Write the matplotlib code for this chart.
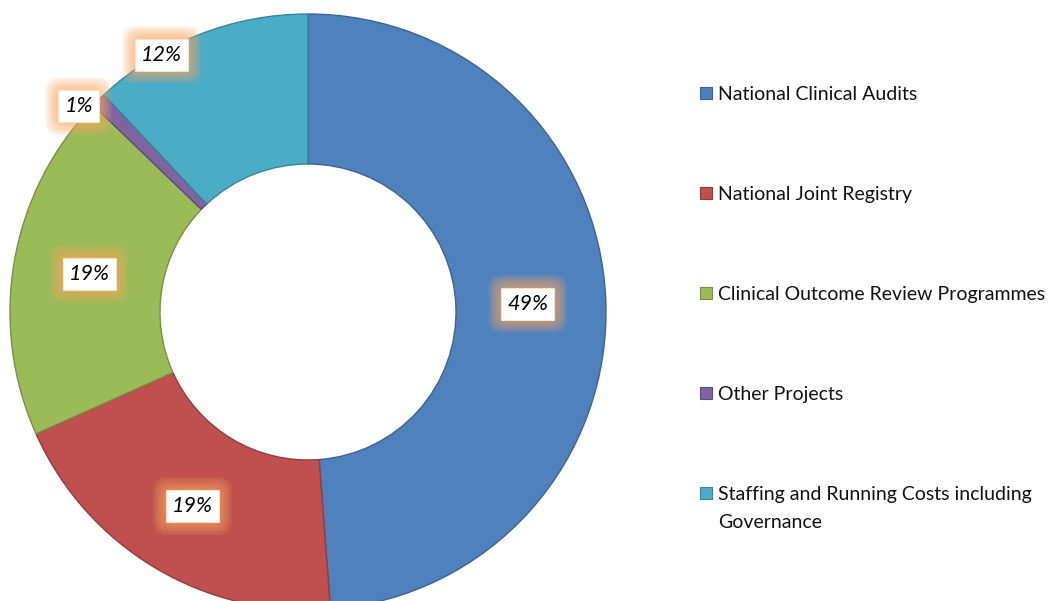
import numpy as np
import matplotlib.pyplot as plt
from matplotlib.patches import Rectangle

# shares (percent)
categories = ['National Clinical Audits', 'National Joint Registry',
              'Clinical Outcome Review Programmes', 'Other Projects',
              'Staffing and Running Costs including\nGovernance']
shares = [48.8, 19.5, 18.9, 0.8, 12.0]
pct_labels = ['49%', '19%', '19%', '1%', '12%']

colors = ['#4F81BD', '#C0504D', '#9BBB59', '#8064A2', '#4BACC6']
edges = ['#3B6496', '#943C3A', '#76913F', '#5E4A7C', '#35869C']

plt.rcParams['font.family'] = ['Lato', 'DejaVu Sans']

fig = plt.figure(figsize=(10.57, 6.01), dpi=100)
ax = fig.add_axes([0, 0, 1, 1])

cx, cy, R = 308, 289, 298
ring = 150
wedges, _ = ax.pie(shares, colors=colors, startangle=90, counterclock=False,
                   center=(cx, cy), radius=R, frame=True,
                   wedgeprops=dict(width=ring, linewidth=1.0))
for w, ec in zip(wedges, edges):
    w.set_edgecolor(ec)

ax.set_xlim(0, 1057)
ax.set_ylim(0, 601)
ax.set_aspect('equal')
ax.axis('off')

# label placement: radius and angle nudge per slice (Excel moved small ones)
lab_r = [220, 226, 222, 308, 296]
lab_shift = [0, 0, 0, 3.5, 8]
for w, txt, r, sh in zip(wedges, pct_labels, lab_r, lab_shift):
    ang = np.deg2rad((w.theta1 + w.theta2) / 2 + sh)
    x = cx + r * np.cos(ang)
    y = cy + r * np.sin(ang)
    # soft orange glow
    for k in range(8):
        ax.text(x, y, txt, fontsize=15.5, style='italic', color='none',
                ha='center', va='center',
                bbox=dict(boxstyle='round,pad=%.2f,rounding_size=0.6' % (0.32 + 0.08 * k),
                          fc='#F9A860', ec='none', alpha=0.12))
    ax.text(x, y, txt, fontsize=15.5, style='italic', color='black',
            ha='center', va='center',
            bbox=dict(boxstyle='square,pad=0.28', fc='white', ec='#FCE0C8', lw=0.8))

# legend drawn by hand, Excel style
for i, (lab, c, ec) in enumerate(zip(categories, colors, edges)):
    yy = 601 - (93 + 100 * i)
    ax.add_patch(Rectangle((700, yy - 6), 12, 12, fc=c, ec=ec, lw=0.8))
    ax.text(718, yy + 7, lab, fontsize=14, va='top', ha='left',
            color='#111111', linespacing=1.75)

fig.savefig('out.png', dpi=100)
